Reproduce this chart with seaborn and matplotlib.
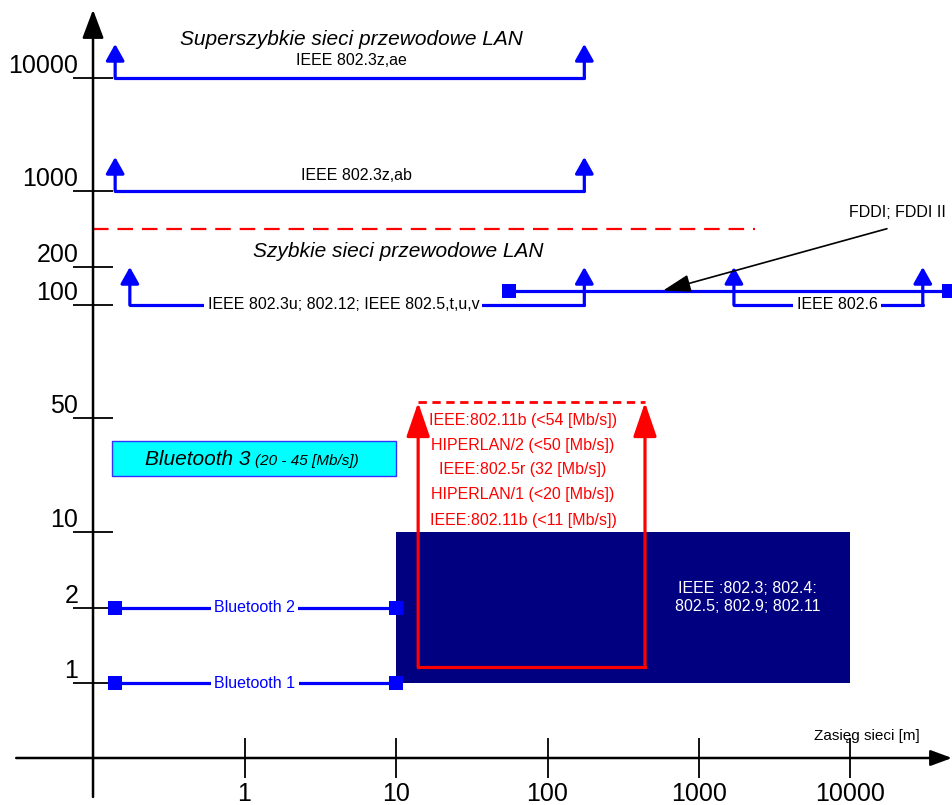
import numpy as np
import pandas as pd
import matplotlib
matplotlib.use("Agg")
import matplotlib.pyplot as plt
import seaborn as sns

# Axis ticks (speed in Mb/s on y, network range in m on x)
y_ticks = [1, 2, 10, 50, 100, 200, 1000, 10000]
y_tick_labels = ["1", "2", "10", "50", "100", "200", "1000", "10000"]
x_ticks = [1, 10, 100, 1000, 10000]
x_tick_labels = ["1", "10", "100", "1000", "10000"]

# Wired LAN links: range from / to, speed, speed at the arrow tip
wired_names = ["IEEE 802.3z,ae", "IEEE 802.3z,ab",
               "IEEE 802.3u; 802.12; IEEE 802.5,t,u,v", "IEEE 802.6"]
wired_x0 = [0.14, 0.14, 0.175, 1700]
wired_x1 = [175, 175, 175, 30000]
wired_y = [10000, 1000, 100, 100]
wired_tip = [20000, 2000, 200, 200]

# FDDI
fddi_x = [56, 45000]
fddi_y = [130, 130]

# Bluetooth
bt_names = ["Bluetooth 1", "Bluetooth 2"]
bt_x = [0.14, 10]
bt_y = [1, 2]
bt3_x = [0.134, 10]
bt3_y = [22, 36]

# Wireless LAN (red box)
wlan_x = [14, 440]
wlan_y = [1.16, 55]
wlan_labels = ["IEEE:802.11b (<54 [Mb/s])", "HIPERLAN/2 (<50 [Mb/s])",
               "IEEE:802.5r (32 [Mb/s])", "HIPERLAN/1 (<20 [Mb/s])",
               "IEEE:802.11b (<11 [Mb/s])"]
wlan_label_y = [48.6, 34, 24, 17, 11.8]

# Wired IEEE 802 block
block_x = [10, 10000]
block_y = [1, 10]

# Border between fast and super fast LANs
fast_x = [0.1, 2340]
fast_y = [450, 450]

BLUE = "#0000ff"
RED = "#ff0000"

sns.set_style("white", rc={"xtick.bottom": True, "ytick.left": True,
                           "text.color": "black", "xtick.color": "black",
                           "ytick.color": "black", "axes.labelcolor": "black"})
plt.rcParams["font.family"] = ["Liberation Sans", "DejaVu Sans"]

# the y axis of the original drawing is not uniform: piecewise log scale
scale_vals = np.log10([0.05, 0.5, 1, 2, 10, 50, 100, 200, 1000, 10000, 100000])
scale_pos = np.array([-249, 0, 75, 150, 226, 340, 453, 491, 567, 680, 793])


def fwd(v):
    return np.interp(np.log10(np.clip(v, 1e-9, None)), scale_vals, scale_pos)


def inv(p):
    return 10 ** np.interp(p, scale_pos, scale_vals)


fig = plt.figure(figsize=(9.52, 8.05), dpi=100)
ax = fig.add_axes([0, 0, 1, 1])
ax.set_xscale("log")
ax.set_yscale("function", functions=(fwd, inv))
ax.set_xlim(10 ** -1.614, 10 ** 4.670)
ax.set_ylim(inv(-47), inv(758))

# axes drawn as arrows, ticks through the axis machinery
for s in ax.spines.values():
    s.set_visible(False)
ax.spines["left"].set_position(("data", 0.1))
ax.spines["bottom"].set_position(("data", 0.5))

ax.annotate("", xy=(0.1, 0.988), xytext=(0.1, 0.01),
            xycoords=("data", "axes fraction"), textcoords=("data", "axes fraction"),
            arrowprops=dict(arrowstyle="-|>,head_length=0.8,head_width=0.3",
                            mutation_scale=22, lw=1.8, color="black",
                            shrinkA=0, shrinkB=0))
ax.annotate("", xy=(1.0, 0.5), xytext=(0.017, 0.5),
            xycoords=("axes fraction", "data"), textcoords=("axes fraction", "data"),
            arrowprops=dict(arrowstyle="-|>,head_length=0.65,head_width=0.24",
                            mutation_scale=20, lw=1.8, color="black",
                            shrinkA=0, shrinkB=0))
ax.text(12850, 0.61, "Zasięg sieci [m]", fontsize=11, ha="center", va="center")

# wired IEEE 802 block
ax.fill_between(block_x, block_y[0], block_y[1], color="#000080", lw=0, zorder=1)
ax.text(2100, 2.5, "IEEE :802.3; 802.4:\n802.5; 802.9; 802.11", color="white",
        fontsize=11.5, ha="center", va="center", zorder=2)

# fast/super fast border
ax.plot(fast_x, fast_y, color=RED, lw=1.6, ls=(0, (7, 4)), zorder=2)

# blue horizontal segments through seaborn
rows = []
for i in range(len(wired_names)):
    rows.append(("w%d" % i, wired_x0[i], wired_y[i]))
    rows.append(("w%d" % i, wired_x1[i], wired_y[i]))
for i in range(len(bt_names)):
    rows.append(("b%d" % i, bt_x[0], bt_y[i]))
    rows.append(("b%d" % i, bt_x[1], bt_y[i]))
rows.append(("fddi", fddi_x[0], fddi_y[0]))
rows.append(("fddi", fddi_x[1], fddi_y[1]))
segs = pd.DataFrame(rows, columns=["seg", "x", "y"])
sns.lineplot(data=segs, x="x", y="y", units="seg", estimator=None, sort=False,
             color=BLUE, lw=2.3, ax=ax, zorder=3)

squares = segs[segs["seg"].str.startswith("b") | (segs["seg"] == "fddi")]
sns.scatterplot(data=squares, x="x", y="y", marker="s", s=90, color=BLUE,
                linewidth=0, ax=ax, zorder=4)

# ticks (after seaborn, which may touch the labels)
ax.set_xticks(x_ticks, labels=x_tick_labels)
ax.set_yticks(y_ticks, labels=y_tick_labels)
ax.minorticks_off()
ax.tick_params(axis="both", direction="inout", length=28.5, width=1.3,
               colors="black", labelsize=18, left=True, bottom=True)
ax.tick_params(axis="y", pad=-3.6)
ax.tick_params(axis="x", pad=3)
for lab in ax.get_yticklabels():
    lab.set_va("bottom")
ax.set_xlabel("")
ax.set_ylabel("")

blue_arrow = dict(arrowstyle="-|>,head_length=0.5,head_width=0.28",
                  mutation_scale=20, lw=2.3, color=BLUE, shrinkA=0, shrinkB=0)
for i in range(len(wired_names)):
    for xx in (wired_x0[i], wired_x1[i]):
        ax.annotate("", xy=(xx, wired_tip[i]), xytext=(xx, wired_y[i]),
                    arrowprops=blue_arrow, zorder=3)

small = 11.5
white_box = dict(boxstyle="square,pad=0.2", fc="white", ec="none")
ax.text(5.1, 21700, "Superszybkie sieci przewodowe LAN", fontsize=15,
        style="italic", ha="center", va="center")
ax.text(5.1, 14400, wired_names[0], fontsize=small, ha="center", va="center")
ax.text(5.5, 1360, wired_names[1], fontsize=small, ha="center", va="center")
ax.text(10.3, 275, "Szybkie sieci przewodowe LAN", fontsize=15,
        style="italic", ha="center", va="center")
ax.text(4.5, wired_y[2], wired_names[2], fontsize=small, ha="center",
        va="center", bbox=white_box, zorder=5)
ax.text(8150, wired_y[3], wired_names[3], fontsize=small, ha="center",
        va="center", bbox=white_box, zorder=5)

# FDDI pointer
ax.text(9800, 628, "FDDI; FDDI II", fontsize=small, ha="left", va="center")
ax.annotate("", xy=(578, fddi_y[0]), xytext=(17400, fast_y[0]),
            arrowprops=dict(arrowstyle="-|>,head_length=0.86,head_width=0.27",
                            mutation_scale=20, lw=1.2, color="black",
                            shrinkA=0, shrinkB=0), zorder=6)

# Bluetooth
for i, name in enumerate(bt_names):
    ax.text(1.17, bt_y[i], name, fontsize=small, color=BLUE, ha="center",
            va="center", bbox=white_box, zorder=5)
ax.fill_between(bt3_x, bt3_y[0], bt3_y[1], facecolor="#00ffff",
                edgecolor="#3333ff", lw=1, zorder=2)
ax.text(1.10, 25.8, "Bluetooth 3", fontsize=15, style="italic", ha="right",
        va="baseline", zorder=3)
ax.text(1.17, 25.8, "(20 - 45 [Mb/s])", fontsize=11, style="italic",
        ha="left", va="baseline", zorder=3)

# wireless LAN box
red_arrow = dict(arrowstyle="-|>,head_length=1.05,head_width=0.36",
                 mutation_scale=20, lw=2.3, color=RED, shrinkA=0, shrinkB=0)
for xx in wlan_x:
    ax.annotate("", xy=(xx, wlan_y[1]), xytext=(xx, wlan_y[0]),
                arrowprops=red_arrow, zorder=4)
ax.plot(wlan_x, [wlan_y[0], wlan_y[0]], color=RED, lw=2.3, zorder=4,
        solid_capstyle="projecting")
ax.plot(wlan_x, [wlan_y[1], wlan_y[1]], color=RED, lw=2, ls=(0, (3, 2)), zorder=4)
for lab, yy in zip(wlan_labels, wlan_label_y):
    ax.text(69, yy, lab, fontsize=small, color=RED, ha="center", va="center",
            zorder=5)

fig.savefig("out.png", dpi=100)
